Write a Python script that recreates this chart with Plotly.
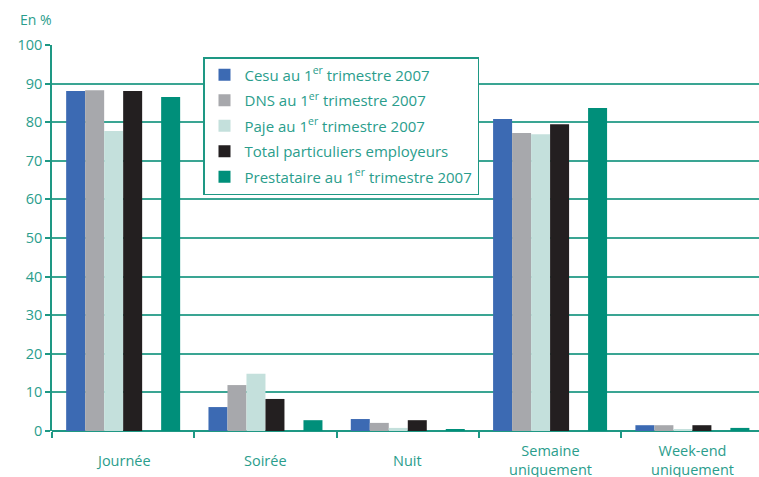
import plotly.graph_objects as go

categories = ["Journée", "Soirée", "Nuit", "Semaine<br>uniquement", "Week-end<br>uniquement"]
series_names = [
    "Cesu au 1<sup>er</sup> trimestre 2007",
    "DNS au 1<sup>er</sup> trimestre 2007",
    "Paje au 1<sup>er</sup> trimestre 2007",
    "Total particuliers employeurs",
    "Prestataire au 1<sup>er</sup> trimestre 2007",
]
cesu = [88.1, 6.2, 3.1, 80.8, 1.5]
dns = [88.3, 11.9, 2.1, 77.2, 1.5]
paje = [77.7, 14.8, 0.8, 76.9, 0.5]
total = [88.1, 8.3, 2.8, 79.5, 1.5]
prestataire = [86.5, 2.8, 0.5, 83.7, 0.8]
y_ticks = [0, 10, 20, 30, 40, 50, 60, 70, 80, 90, 100]

colors = ["#3C6AB3", "#A7A8AC", "#C4E0DC", "#231F20", "#008F7A"]
slots = [0, 1, 2, 3, 5]
slot_w = 0.1335
start = -3 * slot_w
teal_text = "#2A9D8C"
teal_line = "#1E9884"

fig = go.Figure()
for i, (name, vals) in enumerate(zip(series_names, [cesu, dns, paje, total, prestataire])):
    fig.add_trace(go.Bar(
        x=categories, y=vals, name=name,
        marker=dict(color=colors[i], line=dict(width=0)),
        width=slot_w, offset=start + slots[i] * slot_w,
        legendgroup=str(i),
    ))

for c in categories:
    fig.add_annotation(x=c, y=0, xref="x", yref="y", text=c, showarrow=False,
                       yanchor="middle", yshift=-29, font=dict(size=14.5, color=teal_text))

fig.add_annotation(x=(18 - 52) / 707, y=(431 - 20) / 386, xref="paper", yref="paper",
                   text="En %", showarrow=False, xanchor="left", yanchor="middle",
                   font=dict(size=14, color=teal_text))

fig.update_layout(
    width=759, height=477,
    margin=dict(l=52, r=0, t=45, b=46),
    paper_bgcolor="white", plot_bgcolor="white",
    font=dict(family="Open Sans, Noto Sans, sans-serif", size=14, color=teal_text),
    barmode="overlay",
    showlegend=True,
    legend=dict(
        x=(203 - 52) / 707, y=(431 - 57) / 386, xanchor="left", yanchor="top",
        bgcolor="white", bordercolor=teal_line, borderwidth=1.5,
        font=dict(size=15, color=teal_text), tracegroupgap=3,
        traceorder="grouped",
    ),
    xaxis=dict(
        type="category", range=[-0.5, 4.468], tickson="boundaries",
        showticklabels=False, ticks="outside", ticklen=6, tickcolor=teal_line, tickwidth=1.5,
        showgrid=False, showline=False, zeroline=False,
    ),
    yaxis=dict(
        range=[0, 100], tickvals=y_ticks, ticks="outside", ticklen=5,
        tickcolor=teal_line, tickwidth=1.5,
        showgrid=True, gridcolor="#3AA593", gridwidth=1.5,
        showline=True, linecolor=teal_line, linewidth=1.5,
        zeroline=True, zerolinecolor=teal_line, zerolinewidth=1.5,
        tickfont=dict(size=14.5, color=teal_text),
    ),
)

fig.write_html("out.html")
